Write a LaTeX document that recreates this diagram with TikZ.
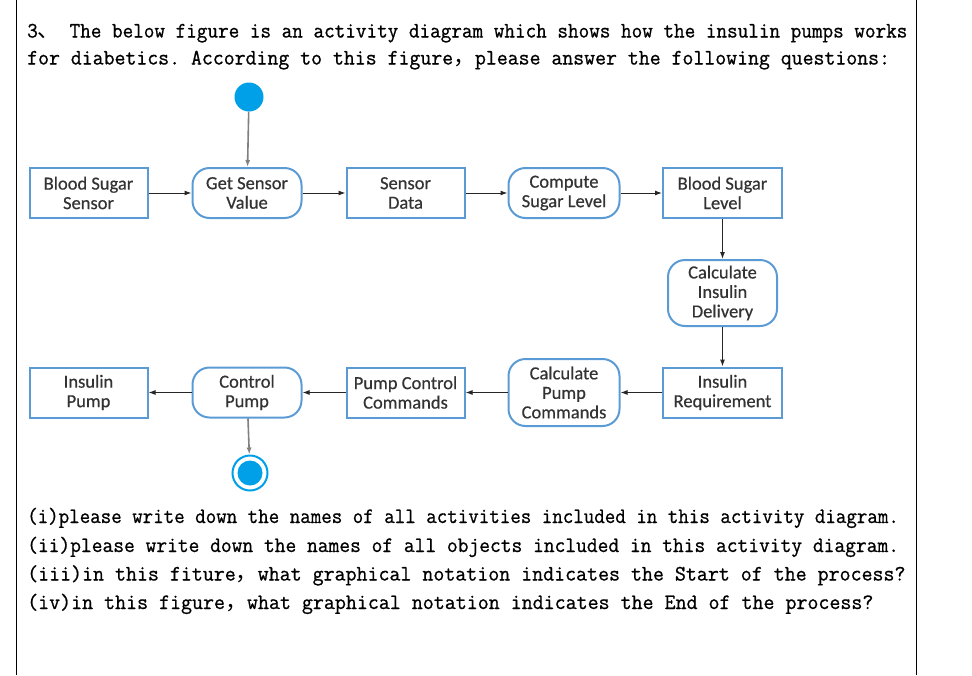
\documentclass[tikz,border=0pt]{standalone}
\usepackage{fontspec}
\setmainfont{Latin Modern Mono}[FakeStretch=0.931,FakeBold=0.8]
\newfontfamily\boxfont{Carlito}[FakeBold=0.5]
\newfontfamily\cjkfont{Noto Sans CJK SC}
\usetikzlibrary{positioning}
\usetikzlibrary{arrows.meta}
\definecolor{objblue}{RGB}{91,155,213}
\definecolor{dotblue}{RGB}{0,160,233}
% full-width sign, two half-width cells wide
\newcommand{\fw}[1]{\makebox[2\fontcharwd\font`0][l]{\cjkfont #1}}
\frenchspacing

\begin{document}
\begin{tikzpicture}[x=1pt,y=-1pt,
  obj/.style={draw=objblue,line width=2pt,minimum width=118pt,minimum height=50pt,
    inner sep=0pt,align=center,text=black!80,font=\boxfont\fontsize{18.5}{19.5}\selectfont},
  act/.style={obj,rounded corners=17pt,minimum width=109pt},
  flow/.style={-{Latex[length=7pt,width=5pt]},line width=1pt,black!85},
  qtext/.style={anchor=base west,inner sep=0pt,
    font=\fontsize{22}{28}\selectfont\addfontfeature{FakeStretch=#1}}]
 \useasboundingbox (0,0) rectangle (972,675);
 \draw[line width=1.3pt] (16.5,0) -- (16.5,675);
 \draw[line width=1.3pt] (916.5,0) -- (916.5,675);
 % question text
 \node[qtext=0.936] (head1) at (27,37.5) {3\fw{、} The below figure is an activity diagram which shows how the insulin pumps works};
 \node[qtext=0.964] (head2) at (27,64.5) {for diabetics. According to this figure\fw{，}please answer the following questions:};
 \node[qtext=0.927] (qi) at (27,523) {(i)please write down the names of all activities included in this activity diagram.};
 \node[qtext=0.950] (qii) at (27,552) {(ii)please write down the names of all objects included in this activity diagram.};
 \node[qtext=0.969] (qiii) at (27,580.5) {(iii)in this fiture\fw{，}what graphical notation indicates the Start of the process?};
 \node[qtext=0.970] (qiv) at (27,609) {(iv)in this figure\fw{，}what graphical notation indicates the End of the process?};
 % start and end
 \node[circle,fill=dotblue,minimum size=29pt,inner sep=0pt] (start) at (249,97) {};
 \node[circle,draw=dotblue,line width=2pt,minimum size=35pt,inner sep=0pt] (end) at (250,473) {};
 \node[circle,fill=dotblue,minimum size=25pt,inner sep=0pt] (endin) at (end) {};
 % first row
 \node[obj] (bss) at (88.5,193) {Blood Sugar\\Sensor};
 \node[act] (gsv) at (247,193) {Get Sensor\\Value};
 \node[obj] (sd) at (405.5,193) {Sensor\\Data};
 \node[act,minimum width=111pt] (csl) at (564,193) {Compute\\Sugar Level};
 \node[obj,minimum width=119pt] (bsl) at (722.5,193) {Blood Sugar\\Level};
 \node[act,minimum height=66pt] (cid) at (722.5,293) {Calculate\\Insulin\\Delivery};
 % second row
 \node[obj,minimum width=119pt] (ir) at (722.5,392.5) {Insulin\\Requirement};
 \node[act,minimum width=111pt,minimum height=67pt] (cpc) at (564,392.5) {Calculate\\Pump\\Commands};
 \node[obj] (pcc) at (405.5,392.5) {Pump Control\\Commands};
 \node[act] (cp) at (247,392.5) {Control\\Pump};
 \node[obj] (ip) at (88.5,392.5) {Insulin\\Pump};
 % flows
 \draw[flow,gray,line width=1.6pt] (start) -- (gsv);
 \draw[flow] (bss) -- (gsv);
 \draw[flow] (gsv) -- (sd);
 \draw[flow] (sd) -- (csl);
 \draw[flow] (csl) -- (bsl);
 \draw[flow] (bsl) -- (cid);
 \draw[flow] (cid) -- (ir);
 \draw[flow] (ir) -- (cpc);
 \draw[flow] (cpc) -- (pcc);
 \draw[flow] (pcc) -- (cp);
 \draw[flow] (cp) -- (ip);
 \draw[flow,gray,line width=1.6pt] (cp) -- (end);
\end{tikzpicture}
\end{document}
